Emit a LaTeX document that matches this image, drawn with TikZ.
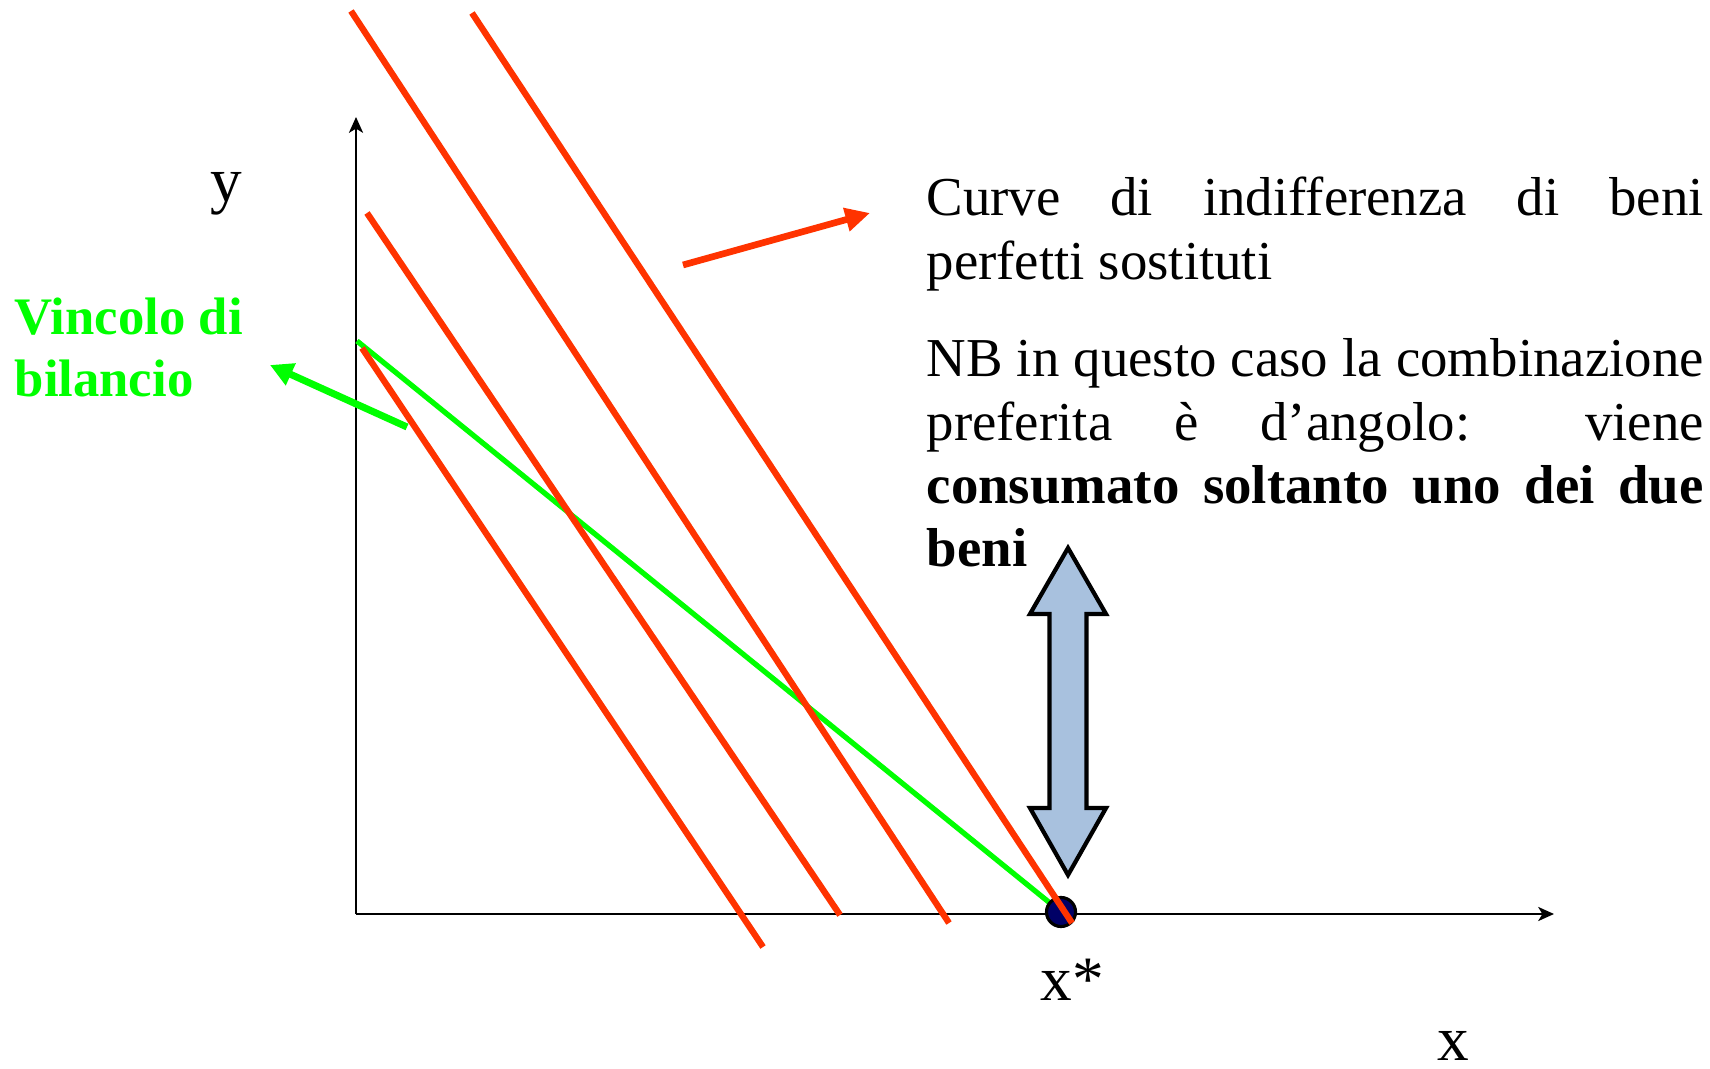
\documentclass[tikz,border=0pt]{standalone}
\usepackage{fontspec}
\setmainfont{Liberation Serif}
\usepackage{xcolor}
\usepackage{tikz}
\usetikzlibrary{arrows.meta}
\definecolor{icred}{RGB}{255,51,0}
\definecolor{bvgreen}{RGB}{0,255,0}
\definecolor{arrblue}{RGB}{168,193,222}
\definecolor{dotnavy}{RGB}{0,0,102}
\newlength{\txtwd}
\setlength{\txtwd}{7.77cm}
\newcommand{\spreadline}[1]{\makebox[\txtwd][s]{#1}}
\newcommand{\plainspaces}{\spaceskip=0pt\xspaceskip=0pt\relax}

\begin{document}
\begin{tikzpicture}[
  axis/.style={line width=0.7pt,-{Stealth[length=4.5pt,width=4pt,inset=1.2pt]}},
  icurve/.style={icred,line width=1.8pt},
  budget/.style={bvgreen,line width=1.5pt},
  bodytext/.style={anchor=base west,inner sep=0pt,text width=\txtwd,align=left,font=\fontsize{15.6}{18}\selectfont},
  axlabel/.style={anchor=base,inner sep=0pt,font=\fontsize{18}{20}\selectfont}]
\useasboundingbox (0,0) rectangle (17.10,10.68);
% axes
\coordinate (o) at (3.56,1.54);
\coordinate (ytop) at (3.56,9.51);
\coordinate (xend) at (15.54,1.54);
\draw[axis] (o) -- (ytop);
\draw[axis] (o) -- (xend);
\node[axlabel] (ylab) at (2.26,8.66) {y};
\node[axlabel] (xlab) at (14.53,0.08) {x};
% budget line and corner solution
\coordinate (xs) at (10.61,1.56);
\draw[budget] (3.57,7.27) -- (xs);
\node[circle,fill=dotnavy,draw=black,line width=0.9pt,minimum size=0.29cm,inner sep=0pt] (dot) at (xs) {};
\node[axlabel] (xslab) at (10.72,0.68) {x*};
% indifference curves
\draw[icurve] (4.72,10.55) -- (10.72,1.45);
\draw[icurve] (3.51,10.57) -- (9.49,1.45);
\draw[icurve] (3.67,8.55) -- (8.40,1.53);
\draw[icurve] (3.62,7.20) -- (7.63,1.21);
% labels and pointers
\node[anchor=base west,inner sep=0pt,align=left,text=bvgreen,font=\fontsize{15}{17.9}\selectfont\bfseries] (vinc) at (0.14,6.71) {\plainspaces Vincolo di\\bilancio};
\coordinate (ga) at (4.07,6.41);
\coordinate (gb) at (2.70,7.03);
\draw[bvgreen,line width=2pt,-{Triangle[length=6.5pt,width=6.5pt]}] (ga) -- (gb);
\coordinate (ra) at (6.83,8.03);
\coordinate (rb) at (8.70,8.55);
\draw[icred,line width=1.9pt,-{Triangle[length=7pt,width=6.5pt]}] (ra) -- (rb);
\node[bodytext] (curve) at (9.26,8.52) {\plainspaces\spreadline{Curve di indifferenza di beni}\\perfetti sostituti};
\node[bodytext] (nb) at (9.26,6.91) {\plainspaces\spreadline{NB in questo caso la combinazione}\\
\spreadline{preferita è d’angolo: viene}\\
\spreadline{\bfseries consumato soltanto uno dei due}\\
\textbf{beni}};
% double arrow
\draw[fill=arrblue,line width=1.2pt] (10.68,5.20) -- (11.06,4.54) -- (10.865,4.54) -- (10.865,2.60) -- (11.06,2.60) -- (10.68,1.93) -- (10.30,2.60) -- (10.495,2.60) -- (10.495,4.54) -- (10.30,4.54) -- cycle;
\end{tikzpicture}
\end{document}
